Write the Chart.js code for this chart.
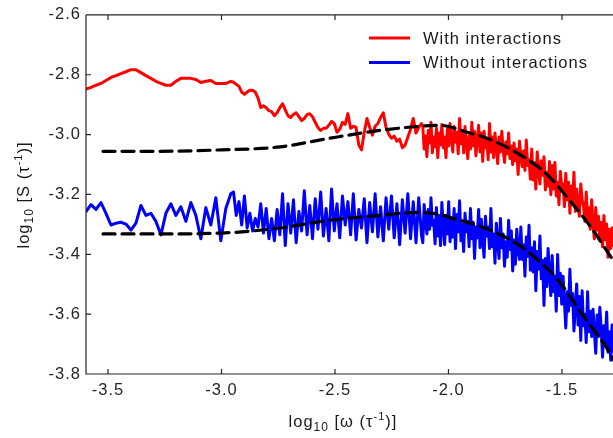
<!DOCTYPE html>
<html>
<head>
<meta charset="utf-8">
<script src="https://cdn.jsdelivr.net/npm/chart.js@4"></script>
<style>
  html, body { margin: 0; padding: 0; background: #fff; }
  canvas { display: block; }
</style>
</head>
<body>
<canvas id="c" width="613" height="438"></canvas>
<script>
// log10 omega grid (shared by both noisy spectra), denser where the data gets dense
const omega = [
  -3.597, -3.575, -3.553, -3.531, -3.509, -3.487, -3.465, -3.443, -3.421, -3.399,
  -3.377, -3.355, -3.333, -3.311, -3.289, -3.267, -3.245, -3.223, -3.201, -3.179,
  -3.157, -3.135, -3.113, -3.091, -3.069, -3.047, -3.025, -3.003, -2.981, -2.959,
  -2.947, -2.935, -2.923, -2.911, -2.899, -2.887, -2.875, -2.863, -2.851, -2.839,
  -2.827, -2.815, -2.803, -2.791, -2.779, -2.767, -2.755, -2.743, -2.731, -2.719,
  -2.707, -2.695, -2.683, -2.671, -2.659, -2.647, -2.635, -2.623, -2.611, -2.599,
  -2.587, -2.575, -2.563, -2.551, -2.539, -2.527, -2.515, -2.503, -2.491, -2.479,
  -2.467, -2.455, -2.443, -2.431, -2.419, -2.407, -2.395, -2.383, -2.371, -2.359,
  -2.347, -2.335, -2.323, -2.311, -2.299, -2.287, -2.275, -2.263, -2.251, -2.239,
  -2.227, -2.215, -2.203, -2.191, -2.179, -2.167, -2.155, -2.143, -2.131, -2.119,
  -2.113, -2.107, -2.101, -2.095, -2.089, -2.083, -2.077, -2.071, -2.065, -2.059,
  -2.053, -2.047, -2.041, -2.035, -2.029, -2.023, -2.017, -2.011, -2.005, -1.999,
  -1.993, -1.987, -1.981, -1.975, -1.969, -1.963, -1.957, -1.951, -1.945, -1.939,
  -1.933, -1.927, -1.921, -1.915, -1.909, -1.903, -1.897, -1.891, -1.885, -1.879,
  -1.873, -1.867, -1.861, -1.855, -1.849, -1.843, -1.837, -1.831, -1.825, -1.819,
  -1.813, -1.807, -1.801, -1.795, -1.789, -1.783, -1.777, -1.771, -1.765, -1.759,
  -1.753, -1.747, -1.741, -1.735, -1.729, -1.723, -1.717, -1.711, -1.705, -1.699,
  -1.693, -1.687, -1.681, -1.675, -1.669, -1.663, -1.657, -1.651, -1.645, -1.639,
  -1.633, -1.627, -1.621, -1.615, -1.609, -1.603, -1.597, -1.591, -1.585, -1.579,
  -1.573, -1.567, -1.561, -1.555, -1.549, -1.543, -1.537, -1.531, -1.525, -1.519,
  -1.513, -1.507, -1.501, -1.495, -1.489, -1.483, -1.477, -1.471, -1.465, -1.459,
  -1.453, -1.447, -1.441, -1.435, -1.429, -1.423, -1.417, -1.411, -1.405, -1.399,
  -1.393, -1.387, -1.381, -1.375, -1.369, -1.363, -1.357, -1.351, -1.345, -1.339,
  -1.333, -1.327, -1.321, -1.315, -1.309, -1.303, -1.297, -1.291, -1.285, -1.279,
  -1.273, -1.267
];

// log10 S, with interactions
const withInt = [
  -2.848, -2.842, -2.835, -2.829, -2.819, -2.809, -2.803, -2.796, -2.790, -2.783,
  -2.783, -2.793, -2.803, -2.812, -2.822, -2.829, -2.835, -2.835, -2.822, -2.812,
  -2.812, -2.812, -2.816, -2.826, -2.822, -2.819, -2.829, -2.829, -2.829, -2.822,
  -2.825, -2.832, -2.839, -2.858, -2.865, -2.858, -2.852, -2.852, -2.858, -2.878,
  -2.910, -2.904, -2.910, -2.920, -2.923, -2.937, -2.927, -2.910, -2.897, -2.917,
  -2.937, -2.943, -2.933, -2.927, -2.940, -2.953, -2.946, -2.933, -2.930, -2.940,
  -2.959, -2.976, -2.986, -2.979, -2.979, -2.969, -2.956, -2.963, -2.992, -2.982,
  -2.959, -2.966, -2.930, -2.979, -2.972, -2.976, -3.035, -3.051, -2.992, -2.946,
  -2.976, -3.002, -2.972, -2.963, -2.943, -2.927, -2.976, -2.999, -3.012, -3.005,
  -3.022, -3.015, -3.044, -3.035, -3.009, -2.982, -2.946, -2.995, -2.976, -2.963,
  -2.973, -3.048, -3.005, -3.074, -2.986, -3.028, -2.959, -3.061, -3.008, -3.041,
  -2.979, -3.077, -2.995, -3.035, -2.966, -3.044, -3.008, -3.077, -2.982, -3.038,
  -2.963, -3.015, -3.058, -2.973, -3.025, -2.992, -3.064, -2.946, -3.031, -2.986,
  -3.061, -2.973, -3.028, -3.080, -3.005, -3.048, -2.959, -3.038, -2.989, -3.071,
  -3.015, -2.969, -3.058, -2.995, -3.090, -2.989, -3.044, -3.015, -3.084, -2.963,
  -3.058, -3.008, -3.077, -2.995, -3.044, -3.097, -3.008, -3.058, -2.989, -3.051,
  -3.093, -3.025, -3.064, -2.995, -3.080, -3.038, -3.100, -3.028, -3.087, -3.048,
  -3.133, -3.022, -3.074, -3.107, -3.054, -3.120, -3.018, -3.103, -3.084, -3.149,
  -3.048, -3.152, -3.093, -3.182, -3.058, -3.116, -3.165, -3.087, -3.136, -3.074,
  -3.185, -3.126, -3.172, -3.090, -3.201, -3.103, -3.182, -3.093, -3.205, -3.159,
  -3.234, -3.123, -3.175, -3.165, -3.241, -3.129, -3.218, -3.159, -3.263, -3.172,
  -3.231, -3.126, -3.257, -3.182, -3.237, -3.273, -3.165, -3.218, -3.237, -3.290,
  -3.192, -3.283, -3.244, -3.316, -3.218, -3.306, -3.348, -3.244, -3.319, -3.273,
  -3.355, -3.293, -3.375, -3.270, -3.352, -3.299, -3.410, -3.316, -3.381, -3.312,
  -3.371, -3.394
];

// log10 S, without interactions
const withoutInt = [
  -3.257, -3.234, -3.250, -3.227, -3.263, -3.302, -3.296, -3.293, -3.299, -3.319,
  -3.296, -3.237, -3.270, -3.263, -3.290, -3.335, -3.263, -3.231, -3.270, -3.241,
  -3.290, -3.227, -3.270, -3.348, -3.244, -3.302, -3.211, -3.355, -3.247, -3.198,
  -3.192, -3.270, -3.224, -3.302, -3.205, -3.312, -3.263, -3.322, -3.280, -3.309,
  -3.231, -3.329, -3.247, -3.348, -3.280, -3.355, -3.250, -3.335, -3.198, -3.371,
  -3.231, -3.329, -3.218, -3.361, -3.257, -3.322, -3.188, -3.335, -3.237, -3.348,
  -3.214, -3.316, -3.192, -3.339, -3.247, -3.355, -3.182, -3.322, -3.231, -3.345,
  -3.205, -3.302, -3.224, -3.335, -3.198, -3.352, -3.250, -3.312, -3.214, -3.361,
  -3.227, -3.325, -3.198, -3.342, -3.241, -3.355, -3.211, -3.316, -3.205, -3.345,
  -3.231, -3.368, -3.218, -3.329, -3.198, -3.348, -3.224, -3.361, -3.211, -3.335,
  -3.361, -3.234, -3.293, -3.332, -3.250, -3.316, -3.211, -3.303, -3.286, -3.365,
  -3.244, -3.339, -3.270, -3.371, -3.227, -3.306, -3.368, -3.270, -3.332, -3.224,
  -3.358, -3.286, -3.342, -3.247, -3.381, -3.267, -3.325, -3.221, -3.355, -3.299,
  -3.391, -3.263, -3.325, -3.290, -3.375, -3.247, -3.348, -3.293, -3.414, -3.309,
  -3.345, -3.250, -3.378, -3.283, -3.355, -3.410, -3.273, -3.339, -3.309, -3.381,
  -3.247, -3.375, -3.332, -3.430, -3.296, -3.358, -3.414, -3.280, -3.378, -3.332,
  -3.440, -3.358, -3.410, -3.286, -3.384, -3.322, -3.456, -3.352, -3.433, -3.316,
  -3.388, -3.417, -3.309, -3.417, -3.368, -3.473, -3.342, -3.407, -3.303, -3.453,
  -3.378, -3.459, -3.358, -3.522, -3.391, -3.450, -3.339, -3.482, -3.420, -3.571,
  -3.414, -3.508, -3.381, -3.466, -3.538, -3.404, -3.525, -3.473, -3.590, -3.401,
  -3.538, -3.463, -3.567, -3.473, -3.558, -3.646, -3.525, -3.590, -3.450, -3.571,
  -3.531, -3.656, -3.574, -3.499, -3.636, -3.541, -3.688, -3.522, -3.639, -3.600,
  -3.695, -3.525, -3.659, -3.590, -3.675, -3.584, -3.659, -3.731, -3.603, -3.675,
  -3.577, -3.649, -3.744, -3.639, -3.698, -3.593, -3.727, -3.659, -3.754, -3.636,
  -3.724, -3.665
];

// fitted curves (dashed)
const fitWithX = [-3.522, -3.315, -3.000, -2.742, -2.522, -2.302, -2.139, -2.037, -1.905, -1.830, -1.685, -1.566, -1.465, -1.363, -1.289, -1.262];
const fitWithY = [-3.056, -3.056, -3.051, -3.041, -3.012, -2.986, -2.973, -2.969, -2.995, -3.012, -3.067, -3.133, -3.221, -3.319, -3.404, -3.433];
const fitWithoutX = [-3.522, -3.315, -3.000, -2.742, -2.522, -2.302, -2.139, -2.037, -1.980, -1.861, -1.760, -1.685, -1.610, -1.540, -1.478, -1.421, -1.363, -1.302, -1.262];
const fitWithoutY = [-3.332, -3.332, -3.329, -3.312, -3.286, -3.270, -3.260, -3.267, -3.280, -3.306, -3.339, -3.371, -3.417, -3.466, -3.525, -3.590, -3.649, -3.714, -3.767];

const xTicks = [-3.5, -3.0, -2.5, -2.0, -1.5];
const yTicks = [-3.8, -3.6, -3.4, -3.2, -3.0, -2.8, -2.6];

const FONT = 'Liberation Sans, Arial, sans-serif';
const AXIS = '#262626';
const pts = (xs, ys) => xs.map((x, i) => ({ x, y: ys[i] }));

// MATLAB-ish spacing of glyphs
const spacing = {
  id: 'spacing',
  beforeUpdate(chart) { chart.ctx.letterSpacing = '1px'; },
  beforeDraw(chart) { chart.ctx.letterSpacing = '1px'; }
};

// box line on top + inward ticks
const frame = {
  id: 'frame',
  afterDraw(chart) {
    const { ctx, chartArea: a, scales: { x, y } } = chart;
    ctx.save();
    ctx.strokeStyle = AXIS;
    ctx.lineWidth = 1.2;
    ctx.beginPath();
    ctx.moveTo(a.left, a.top); ctx.lineTo(a.right, a.top);
    ctx.moveTo(a.left, a.top); ctx.lineTo(a.left, a.bottom);
    ctx.lineTo(a.right, a.bottom);
    xTicks.forEach(v => {
      const px = x.getPixelForValue(v);
      ctx.moveTo(px, a.bottom); ctx.lineTo(px, a.bottom - 5);
      ctx.moveTo(px, a.top); ctx.lineTo(px, a.top + 5);
    });
    yTicks.forEach(v => {
      const py = y.getPixelForValue(v);
      ctx.moveTo(a.left, py); ctx.lineTo(a.left + 5, py);
    });
    ctx.stroke();
    ctx.restore();
  }
};

// draws a run of [text, size, dy] pieces starting at x0
function drawRuns(ctx, runs, x0, base) {
  let x = x0;
  runs.forEach(([t, size, dy]) => {
    ctx.font = size + 'px ' + FONT;
    ctx.fillText(t, x, base + dy);
    x += ctx.measureText(t).width;
  });
}
function runsWidth(ctx, runs) {
  return runs.reduce((w, [t, size]) => { ctx.font = size + 'px ' + FONT; return w + ctx.measureText(t).width; }, 0);
}

const titles = {
  id: 'titles',
  afterDraw(chart) {
    const { ctx } = chart;
    ctx.save();
    ctx.fillStyle = '#1a1a1a';
    ctx.textBaseline = 'alphabetic';
    ctx.textAlign = 'left';
    ctx.letterSpacing = '1px';
    const xr = [['log', 16.5, 0], ['10', 12, 4], [' [\u03C9 (\u03C4', 16.5, 0], ['-1', 11, -7], [')]', 16.5, 0]];
    drawRuns(ctx, xr, 343 - runsWidth(ctx, xr) / 2, 427);
    const yr = [['log', 16.5, 0], ['10', 12, 4], [' [S (\u03C4', 16.5, 0], ['-1', 11, -7], [')]', 16.5, 0]];
    ctx.translate(29, 195);
    ctx.rotate(-Math.PI / 2);
    drawRuns(ctx, yr, -runsWidth(ctx, yr) / 2, 0);
    ctx.restore();
  }
};

const legendBox = {
  id: 'legendBox',
  afterDraw(chart) {
    const { ctx } = chart;
    const items = chart.data.datasets.filter(d => d.inLegend);
    ctx.save();
    ctx.letterSpacing = '1px';
    ctx.font = '16.5px ' + FONT;
    ctx.textBaseline = 'middle';
    ctx.fillStyle = '#1a1a1a';
    items.forEach((d, i) => {
      const yy = 38 + i * 24.5;
      ctx.strokeStyle = d.borderColor;
      ctx.lineWidth = 3;
      ctx.beginPath(); ctx.moveTo(369, yy); ctx.lineTo(410, yy); ctx.stroke();
      ctx.fillText(d.label, 423, yy + 1);
    });
    ctx.restore();
  }
};

new Chart(document.getElementById('c'), {
  type: 'line',
  data: {
    datasets: [
      { label: 'fit with', data: pts(fitWithX, fitWithY), borderColor: '#000', borderWidth: 3.2, borderDash: [12, 7], cubicInterpolationMode: 'monotone', order: 0 },
      { label: 'fit without', data: pts(fitWithoutX, fitWithoutY), borderColor: '#000', borderWidth: 3.2, borderDash: [12, 7], cubicInterpolationMode: 'monotone', order: 0 },
      { label: 'With interactions', inLegend: true, data: pts(omega, withInt), borderColor: '#ff0000', borderWidth: 3, order: 1 },
      { label: 'Without interactions', inLegend: true, data: pts(omega, withoutInt), borderColor: '#0000ff', borderWidth: 3, order: 2 }
    ]
  },
  options: {
    responsive: false,
    animation: false,
    events: [],
    layout: { padding: { top: 7, right: 0, left: 0, bottom: 0 } },
    elements: { point: { radius: 0 }, line: { tension: 0, fill: false, borderJoinStyle: 'round', borderCapStyle: 'round' } },
    plugins: { legend: { display: false }, tooltip: { enabled: false } },
    scales: {
      x: {
        type: 'linear', min: -3.597, max: -1.275,
        grid: { display: false, drawTicks: false },
        border: { display: false },
        afterBuildTicks: s => { s.ticks = xTicks.map(v => ({ value: v })); },
        afterFit: s => { s.height = 64; },
        ticks: { color: AXIS, padding: 7, font: { family: FONT, size: 16.5 }, maxRotation: 0, callback: v => v.toFixed(1) }
      },
      y: {
        type: 'linear', min: -3.8, max: -2.6,
        grid: { display: false, drawTicks: false },
        border: { display: false },
        afterBuildTicks: s => { s.ticks = yTicks.map(v => ({ value: v })); },
        afterFit: s => { s.width = 86; },
        ticks: { color: AXIS, padding: 5, font: { family: FONT, size: 16.5 }, callback: v => v.toFixed(1) }
      }
    }
  },
  plugins: [spacing, frame, titles, legendBox]
});
</script>
</body>
</html>
